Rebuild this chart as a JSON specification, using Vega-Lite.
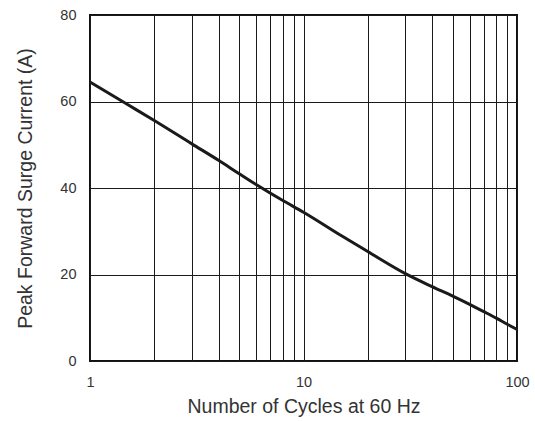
{
  "$schema": "https://vega.github.io/schema/vega-lite/v6.json",
  "width": 427,
  "height": 346,
  "autosize": {"type": "none"},
  "padding": {"left": 90, "top": 15, "right": 18, "bottom": 60},
  "background": "white",
  "config": {
    "view": {"stroke": "#111", "strokeWidth": 2},
    "font": "Liberation Sans",
    "axis": {
      "labelFont": "Liberation Sans",
      "titleFont": "Liberation Sans",
      "labelColor": "#333",
      "titleColor": "#333",
      "titleFontWeight": "normal",
      "labelFontSize": 14.5,
      "titleFontSize": 19.5,
      "gridColor": "#1a1a1a",
      "gridOpacity": 1,
      "gridWidth": 1,
      "domain": false,
      "ticks": false
    }
  },
  "data": {
    "values": [
      {"cycles": 1, "current": 64.5},
      {"cycles": 1.5, "current": 59.3},
      {"cycles": 2, "current": 55.6},
      {"cycles": 3, "current": 50.2},
      {"cycles": 4, "current": 46.4},
      {"cycles": 5, "current": 43.3},
      {"cycles": 6, "current": 40.8},
      {"cycles": 8, "current": 37.1},
      {"cycles": 10, "current": 34.4},
      {"cycles": 15, "current": 29.0},
      {"cycles": 20, "current": 25.3},
      {"cycles": 30, "current": 20.2},
      {"cycles": 40, "current": 17.2},
      {"cycles": 50, "current": 15.0},
      {"cycles": 60, "current": 13.1},
      {"cycles": 70, "current": 11.4},
      {"cycles": 80, "current": 9.9},
      {"cycles": 90, "current": 8.5},
      {"cycles": 100, "current": 7.3}
    ]
  },
  "mark": {"type": "line", "color": "#1a1a1a", "strokeWidth": 3, "interpolate": "monotone", "clip": true},
  "encoding": {
    "x": {
      "field": "cycles",
      "type": "quantitative",
      "scale": {"type": "log", "domain": [1, 100], "nice": false},
      "axis": {
        "title": "Number of Cycles at 60 Hz",
        "values": [1, 2, 3, 4, 5, 6, 7, 8, 9, 10, 20, 30, 40, 50, 60, 70, 80, 90, 100],
        "labelExpr": "(datum.value == 1 || datum.value == 10 || datum.value == 100) ? format(datum.value, 'd') : ''",
        "labelOverlap": false,
        "labelFlush": false,
        "labelPadding": 14,
        "titlePadding": 9
      }
    },
    "y": {
      "field": "current",
      "type": "quantitative",
      "scale": {"domain": [0, 80], "nice": false},
      "axis": {
        "title": "Peak Forward Surge Current (A)",
        "values": [0, 20, 40, 60, 80],
        "labelPadding": 14,
        "titlePadding": 24
      }
    }
  }
}
